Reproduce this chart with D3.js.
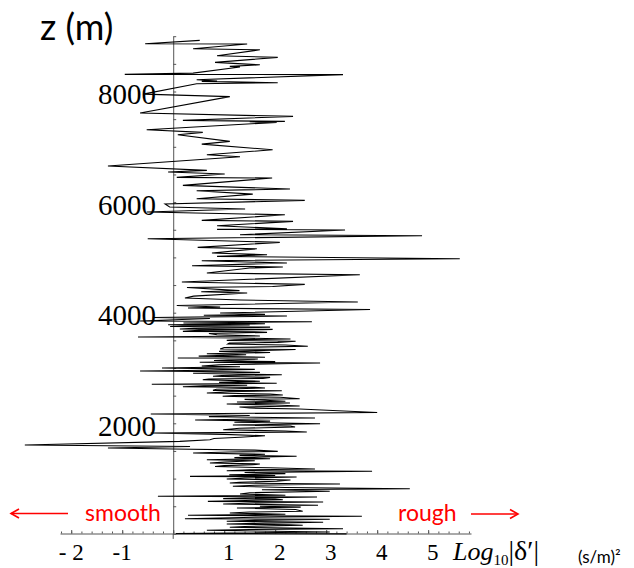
<!DOCTYPE html>
<html><head><meta charset="utf-8">
<script src="https://cdn.jsdelivr.net/npm/d3@7"></script>
<style>body{margin:0;background:#fff} svg{display:block}</style>
</head><body>
<script>
// depth samples (m) and log10|delta'| values, top to bottom, in four depth bands
const zBand1 = [8924,8863,8860,8772,8754,8646,8617,8527,8483,8454,8442,8333,8310,8306,8212,8189,8183,8158,8140,7953,7908,7610,7550,7478,7460,7453,7442,7308,7261,7218,7098,7049,6946,6856,6820,6652];
const vBand1 = [0.52,-0.55,1.45,0.39,1.70,0.86,2.05,0.82,1.70,1.11,1.31,0.39,-0.95,3.33,0.46,0.86,0.56,2.05,0.46,-0.59,1.11,-0.65,2.35,0.19,2.19,1.50,2.03,-0.52,0.58,0.09,1.11,0.56,1.95,0.66,1.31,-1.28];
const zBand2 = [6574,6543,6507,6447,6435,6303,6236,6205,6145,6061,6032,5965,5910,5874,5820,5771,5670,5652,5572,5518,5507,5495,5410,5392,5337,5272,5182,5156,5079,5048,5019,4976,4940,4898,4849,4826,4808,4717,4686,4554,4513];
const vBand2 = [0.66,-0.10,1.01,0.07,1.94,0.19,2.29,0.46,1.56,0.46,2.58,-0.16,-0.07,1.41,-0.52,2.19,0.56,2.35,0.86,2.23,0.86,3.37,1.31,4.88,-0.50,2.09,0.48,1.64,0.76,1.84,0.86,5.62,0.56,2.23,0.37,2.15,1.50,0.66,3.66,0.17,2.58];
const zBand3 = [4473,4455,4400,4380,4356,4300,4265,4229,4193,4130,4102,4084,4057,3994,3970,3955,3940,3913,3895,3849,3837,3815,3800,3782,3777,3765,3750,3740,3732,3720,3705,3698,3692,3680,3663,3655,3645,3625,3602,3580,3560,3542,3525,3512,3500,3485,3464,3450,3433,3415,3392,3370,3343,3335,3325,3300,3280,3258,3240,3215,3195,3180,3162,3135,3115,3103,3090,3060,3036,3023,3000,2975,2960,2945,2933,2920,2904,2878,2865,2850,2830,2813,2800,2788,2760,2740,2723,2705,2687,2675,2661,2650,2638,2615,2596,2589,2570,2548,2530,2511,2500,2488,2470,2444,2432,2421,2400,2385,2367,2349,2330,2313,2295,2276,2258];
const vBand3 = [1.95,0.27,1.30,0.55,1.45,0.40,0.23,1.31,3.62,0.07,0.92,0.29,3.86,0.92,1.80,0.60,2.23,-0.40,0.72,-0.65,2.72,0.20,1.80,-0.10,1.50,0.30,-0.06,1.90,1.64,0.40,0.13,1.95,1.76,0.50,0.19,1.60,1.84,0.70,0.86,1.70,-0.69,1.31,2.30,1.20,1.05,2.40,2.05,1.10,1.07,2.20,2.64,1.00,0.92,2.40,2.13,0.90,1.90,0.66,1.43,0.50,1.80,0.09,1.66,0.80,2.00,0.52,2.88,0.90,0.56,1.31,-0.22,1.60,0.70,-0.65,1.11,1.70,0.39,2.13,0.95,0.78,1.90,1.76,0.70,0.58,1.70,0.90,2.03,-0.42,1.45,0.60,0.19,1.60,1.80,0.85,0.78,2.13,1.10,0.66,1.90,2.15,1.20,0.97,2.10,2.48,1.40,1.70,2.20,1.25,2.29,1.05,2.00,2.48,1.30,1.50,2.48];
const zBand4 = [2195,2168,2140,2120,2096,2059,2040,2020,1993,1969,1950,1933,1910,1884,1860,1842,1824,1800,1775,1747,1725,1703,1674,1607,1580,1553,1535,1515,1493,1480,1463,1440,1420,1403,1380,1360,1342,1324,1300,1282,1265,1251,1235,1219,1195,1173,1160,1143,1132,1110,1090,1070,1055,1041,1029,1010,993,975,951,935,920,902,880,861,840,817,799,785,770,745,721,700,680,667,650,637,628,618,600,589,577,560,541,517,500,485,468,440,409,395,378,355,336,318,300,275,264,245,228,210,195,179,165,156,135,119,94,80,65,34,5,0];
const vBand4 = [4.0,-0.44,1.50,0.70,2.78,0.43,1.90,1.20,2.88,1.17,2.30,2.39,1.30,0.98,2.20,2.62,-0.44,1.00,1.80,1.31,0.80,0.72,0.13,-2.91,0.33,-1.28,0.0,1.60,2.05,1.10,0.39,1.80,1.30,2.42,1.20,1.90,0.66,1.60,1.00,0.72,1.70,1.56,1.00,0.82,1.90,2.78,1.50,1.05,3.90,1.40,2.20,1.10,2.00,0.33,2.42,1.40,1.05,2.30,2.03,1.30,1.11,3.27,1.60,1.17,2.20,4.64,1.74,2.40,3.07,1.50,1.31,2.20,-0.30,2.82,1.40,0.98,2.00,2.15,1.20,0.68,2.94,1.60,0.98,2.84,1.70,2.50,1.25,2.40,2.54,1.50,1.11,2.20,0.29,3.70,1.60,0.23,3.07,1.60,1.05,2.94,1.80,1.05,2.30,2.54,1.40,1.11,3.33,1.50,0.66,3.07,0.05,3.40];

const xTickValues = [-2,-1,1,2,3,4,5];
const xTickLabels = ["- 2","-1","1","2","3","4","5"];
const yTickValues = [2000,4000,6000,8000];

const W = 634, H = 568;
const svg = d3.select("body").append("svg").attr("width", W).attr("height", H);

const x = d3.scaleLinear().domain([-2.22, 5.84]).range([60, 471]);
const y = d3.scaleLinear().domain([0, 9000]).range([533.9, 36.2]);

const depths = [].concat(zBand1, zBand2, zBand3, zBand4);
const values = [].concat(vBand1, vBand2, vBand3, vBand4);
const pts = depths.map((z, i) => ({z, v: values[i]}));

// x axis: minor ticks every 0.2, major at integers
const minor = d3.range(-2.2, 5.81, 0.2).map(d => +d.toFixed(1));
const xAxisG = svg.append("g").attr("transform", `translate(0,${y(0) - 0.4})`);
xAxisG.call(d3.axisBottom(x).tickValues(minor).tickSizeInner(-2).tickSizeOuter(0).tickFormat(""));
xAxisG.append("g").call(d3.axisBottom(x).tickValues(d3.range(-2, 6)).tickSizeInner(-3.5).tickSizeOuter(0).tickFormat(""))
  .select(".domain").remove();
xAxisG.selectAll("path,line").attr("stroke", "#555").attr("stroke-width", 1);

// y axis at x=0 with ticks every 500 m
const yAxisG = svg.append("g").attr("transform", `translate(${x(0)},0)`);
yAxisG.call(d3.axisRight(y).tickValues(d3.range(0, 9001, 500)).tickSizeInner(3).tickSizeOuter(0).tickFormat(""));
yAxisG.selectAll("path,line").attr("stroke", "#555").attr("stroke-width", 1);
yAxisG.append("line").attr("x1", 0).attr("x2", 0).attr("y1", y(0)).attr("y2", y(0) + 5)
  .attr("stroke", "#555").attr("stroke-width", 1);

// data line
svg.append("path").datum(pts)
  .attr("fill", "none").attr("stroke", "#000").attr("stroke-width", 1.1).attr("stroke-linejoin", "miter")
  .attr("d", d3.line().x(d => x(d.v)).y(d => y(d.z)));

// y labels
svg.append("g").selectAll("text").data(yTickValues).join("text")
  .attr("x", 156).attr("y", d => y(d) + 12.5)
  .attr("text-anchor", "end")
  .style("font-family", "'Liberation Serif', 'DejaVu Serif', serif").style("font-size", "29px")
  .text(d => d);

// x labels
svg.append("g").selectAll("text").data(xTickValues).join("text")
  .attr("x", (d) => x(d) + (d > 0 ? 4.5 : 0)).attr("y", 560)
  .attr("text-anchor", "middle")
  .style("font-family", "'Liberation Serif', serif").style("font-size", "23px")
  .text((d, i) => xTickLabels[i]);

// axis titles
svg.append("text").attr("x", 40).attr("y", 40)
  .style("font-family", "Lato, 'Liberation Sans', sans-serif").style("font-size", "36px")
  .text("z (m)");

const xt = svg.append("text").attr("x", 453).attr("y", 560)
  .style("font-family", "'Liberation Serif', serif").style("font-size", "26px");
xt.append("tspan").style("font-style", "italic").text("Log");
xt.append("tspan").attr("dy", 5).style("font-size", "15px").text("10");
xt.append("tspan").attr("dy", -5).style("font-size", "28px").text("|δ′|");

svg.append("text").attr("x", 578).attr("y", 563)
  .style("font-family", "Lato, 'Liberation Sans', sans-serif").style("font-size", "17px")
  .text("(s/m)²");

// smooth / rough annotations
const red = "#ff0000";
svg.append("text").attr("x", 85).attr("y", 521).attr("fill", red)
  .style("font-family", "Lato, 'Liberation Sans', sans-serif").style("font-size", "23px").text("smooth");
svg.append("text").attr("x", 398).attr("y", 521).attr("fill", red)
  .style("font-family", "Lato, 'Liberation Sans', sans-serif").style("font-size", "23px").text("rough");

function arrow(x1, x2, yy) {
  const dir = Math.sign(x2 - x1);
  svg.append("line").attr("x1", x1).attr("x2", x2).attr("y1", yy).attr("y2", yy)
    .attr("stroke", red).attr("stroke-width", 1.6);
  svg.append("path")
    .attr("d", `M${x2 - dir * 8},${yy - 4.5} L${x2},${yy} L${x2 - dir * 8},${yy + 4.5}`)
    .attr("fill", "none").attr("stroke", red).attr("stroke-width", 1.6);
}
arrow(68, 11, 513.5);
arrow(471, 518, 514);
</script>
</body></html>
